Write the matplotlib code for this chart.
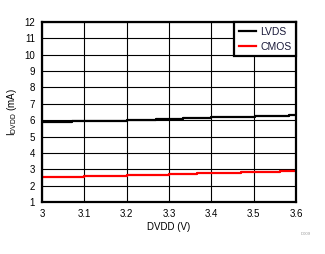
import matplotlib.pyplot as plt

plt.rcParams['font.family'] = ['Liberation Sans', 'DejaVu Sans']

# step edges (V) and currents (mA)
lvds_v = [3.0, 3.07, 3.135, 3.20, 3.27, 3.332, 3.40, 3.503, 3.584, 3.6]
lvds_i = [5.87, 5.93, 5.97, 6.03, 6.08, 6.14, 6.20, 6.26, 6.34, 6.34]

cmos_v = [3.0, 3.10, 3.20, 3.30, 3.366, 3.47, 3.563, 3.6]
cmos_i = [2.55, 2.61, 2.67, 2.73, 2.79, 2.85, 2.91, 2.91]

x_ticks = [3, 3.1, 3.2, 3.3, 3.4, 3.5, 3.6]
x_labels = ['3', '3.1', '3.2', '3.3', '3.4', '3.5', '3.6']
y_ticks = list(range(1, 13))

fig = plt.figure(figsize=(3.25, 2.54), dpi=100)
ax = fig.add_axes([0.129, 0.205, 0.782, 0.708])

ax.plot(lvds_v, lvds_i, drawstyle='steps-post', color='black', linewidth=1.6, label='LVDS')
ax.plot(cmos_v, cmos_i, drawstyle='steps-post', color='#ff0000', linewidth=1.6, label='CMOS')

ax.set_xlim(3, 3.6)
ax.set_ylim(1, 12)
ax.set_xticks(x_ticks)
ax.set_xticklabels(x_labels)
ax.set_yticks(y_ticks)
ax.grid(True, color='black', linewidth=0.8)
ax.tick_params(length=0, labelsize=7, pad=5)

for s in ax.spines.values():
    s.set_linewidth(1.6)

ax.set_xlabel('DVDD (V)', fontsize=7, labelpad=2)
ax.set_ylabel(r'I$_{\mathregular{DVDD}}$ (mA)', fontsize=7, labelpad=4)

leg = ax.legend(loc='upper right', fontsize=7.5, frameon=True, fancybox=False,
                borderaxespad=0, handlelength=1.7, handletextpad=0.35,
                borderpad=0.45, labelspacing=0.47)
leg.get_frame().set_edgecolor('black')
leg.get_frame().set_linewidth(1.6)
leg.get_frame().set_alpha(1)
for t in leg.get_texts():
    t.set_color('#1a1a3a')

fig.text(0.955, 0.075, 'D009', fontsize=3, color='#999999', ha='right')

plt.savefig('out.png', dpi=100)
